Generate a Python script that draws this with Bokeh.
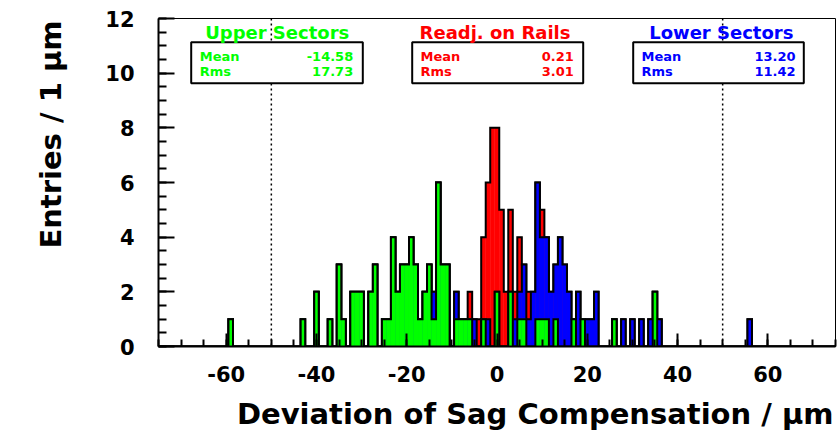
import numpy as np
from bokeh.plotting import figure
from bokeh.models import ColumnDataSource, FixedTicker, Label, BoxAnnotation, Span, Title
from bokeh.embed import file_html
from bokeh.resources import INLINE

# ---------------- data (1 um bins, bin centres) ----------------
upper_bins = [-59, -43, -40, -37, -35, -34, -32, -31, -30, -28, -27, -25, -24, -23, -22,
              -21, -20, -19, -18, -17, -16, -15, -14, -13, -12, -11, -9, -8, -7, -6,
              -3, 0, 3, 5, 6, 9, 10, 11, 13, 17, 19, 26, 35]
upper_counts = [1, 1, 2, 1, 3, 1, 2, 2, 2, 2, 3, 1, 1, 4, 2,
                3, 3, 4, 3, 1, 2, 3, 1, 6, 3, 3, 1, 1, 1, 1,
                1, 2, 2, 1, 1, 1, 1, 1, 1, 1, 1, 1, 2]

lower_bins = [-14, -9, -5, -2, 4, 5, 6, 7, 8, 9, 10, 11, 12, 13, 14, 15, 16, 18, 20,
              21, 22, 28, 30, 32, 34, 36, 56]
lower_counts = [1, 1, 1, 1, 1, 1, 2, 1, 2, 5, 3, 3, 2, 2, 4, 3, 2, 2, 1,
                1, 2, 1, 1, 1, 1, 1, 1]

rails_bins = [-6, -4, -3, -2, -1, 0, 1, 2, 3, 4, 5, 7, 10]
rails_counts = [1, 1, 3, 5, 8, 6, 5, 2, 3, 1, 2, 1, 1]

groups = ["Upper Sectors", "Readj. on Rails", "Lower Sectors"]
means = ["-14.58", "0.21", "13.20"]
rmss = ["17.73", "3.01", "11.42"]
colors = ["#00ff00", "#ff0000", "#0000ff"]

x_ticks = [-60, -40, -20, 0, 20, 40, 60]
y_ticks = [0, 2, 4, 6, 8, 10, 12]
sector_limits = [-50, 50]
x_title = "Deviation of Sag Compensation / μm"
y_title = "Entries / 1 μm"

# ---------------- layout ----------------
X0, X1, Y0, Y1 = -75, 75, 0, 12
W, H = 839, 440
FL, FT, FR, FB = 158, 18, 4, 94
FW = W - FL - FR
FH = H - FT - FB
FONT = "DejaVu Sans"


def X(px):
    return X0 + (px - FL) / FW * (X1 - X0)


def Y(py):
    return Y1 - (py - FT) / FH * (Y1 - Y0)


p = figure(width=W, height=H, x_range=(X0, X1), y_range=(Y0, Y1),
           output_backend="svg", toolbar_location=None,
           min_border_left=FL, min_border_right=FR, min_border_top=FT,
           min_border_bottom=FB)
p.background_fill_color = "white"
p.border_fill_color = "white"
p.outline_line_color = "black"
p.outline_line_width = 1
p.xgrid.visible = False
p.ygrid.visible = False

# ---------------- histograms (stacked: upper, lower, rails) ----------------
bins = np.arange(X0, X1 + 1)


def full(b, c):
    arr = np.zeros(len(bins))
    for bi, ci in zip(b, c):
        arr[bi - X0] += ci
    return arr


g = full(upper_bins, upper_counts)
bl = full(lower_bins, lower_counts)
r = full(rails_bins, rails_counts)

layers = [(g + bl + r, colors[1]), (g + bl, colors[2]), (g, colors[0])]
edges = np.append(bins - 0.5, bins[-1] + 0.5)
for top, col in layers:
    m = top > 0
    src = ColumnDataSource(dict(left=(bins - 0.5)[m], right=(bins + 0.5)[m],
                                top=top[m], bottom=np.zeros(m.sum())))
    p.quad(left="left", right="right", top="top", bottom="bottom", source=src,
           fill_color=col, line_color=col, line_width=0.5)
    xs = np.repeat(edges, 2)
    ys = np.concatenate([[0], np.repeat(top, 2), [0]])
    p.line(xs, ys, line_color="black", line_width=2, line_join="miter")

# ---------------- axes ----------------
minor_x = [v for v in range(X0, X1 + 1, 5)]
p.xaxis.ticker = FixedTicker(ticks=x_ticks, minor_ticks=minor_x)
p.xaxis.major_label_overrides = {v: str(v) for v in x_ticks}
minor_y = list(np.arange(0, 12.01, 0.5))
p.yaxis.ticker = FixedTicker(ticks=y_ticks, minor_ticks=minor_y)

for ax in (p.xaxis, p.yaxis):
    ax.axis_line_width = 2
    ax.axis_line_color = "black"
    ax.major_tick_line_width = 2
    ax.minor_tick_line_width = 2
    ax.major_tick_out = 0
    ax.minor_tick_out = 0
    ax.major_label_text_font = FONT
    ax.major_label_text_font_style = "bold"
    ax.major_label_text_font_size = "21px"
    ax.major_label_text_color = "black"

p.xaxis.major_tick_in = 13
p.xaxis.minor_tick_in = 7
p.yaxis.major_tick_in = 16
p.yaxis.minor_tick_in = 8
p.xaxis.major_label_standoff = 19
p.yaxis.major_label_standoff = 24

# ---------------- axis titles (side-panel titles, aligned to the far end) ----------------
AXIS_FS = 29
p.add_layout(Title(text=x_title, align="right", vertical_align="bottom",
                   offset=2, standoff=20, text_font=FONT, text_font_style="bold",
                   text_font_size=f"{AXIS_FS}px", text_color="black"), "below")
p.add_layout(Title(text=y_title, align="right", vertical_align="top",
                   offset=2, standoff=66, text_font=FONT, text_font_style="bold",
                   text_font_size=f"{AXIS_FS}px", text_color="black"), "left")

# ---------------- dotted sector limits ----------------
for v in sector_limits:
    p.add_layout(Span(location=v, dimension="height", line_color="black",
                      line_width=1.5, line_dash="2 3"))

# ---------------- stat boxes ----------------
box_px = [(190.7, 362.3), (411.7, 582.7), (632.7, 803.3)]
title_cx = [276.7, 494.5, 720.8]
text_left = [199.3, 420.0, 641.0]
text_right = [352.7, 573.3, 795.0]
TITLE_FS, STAT_FS = 18, 13


def base(py, fs):
    # baseline target in page px, corrected for the renderer's text offset
    return Y(py - 0.33 * fs)


for i in range(3):
    p.add_layout(BoxAnnotation(left=X(box_px[i][0]), right=X(box_px[i][1]),
                               top=Y(41.7), bottom=Y(82.7),
                               fill_color="white", fill_alpha=1.0,
                               line_color="black", line_width=2, line_alpha=1.0))
    p.add_layout(Label(x=X(title_cx[i]), y=base(38, TITLE_FS), text=groups[i],
                       text_align="center", text_baseline="alphabetic",
                       text_font=FONT, text_font_style="bold",
                       text_font_size=f"{TITLE_FS}px", text_color=colors[i]))
    for txt, py in (("Mean", 60), ("Rms", 75)):
        p.add_layout(Label(x=X(text_left[i]), y=base(py, STAT_FS), text=txt,
                           text_align="left", text_baseline="alphabetic",
                           text_font=FONT, text_font_style="bold",
                           text_font_size=f"{STAT_FS}px", text_color=colors[i]))
    for txt, py in ((means[i], 60), (rmss[i], 75)):
        p.add_layout(Label(x=X(text_right[i]), y=base(py, STAT_FS), text=txt,
                           text_align="right", text_baseline="alphabetic",
                           text_font=FONT, text_font_style="bold",
                           text_font_size=f"{STAT_FS}px", text_color=colors[i]))

open("out.html", "w").write(file_html(p, INLINE))
